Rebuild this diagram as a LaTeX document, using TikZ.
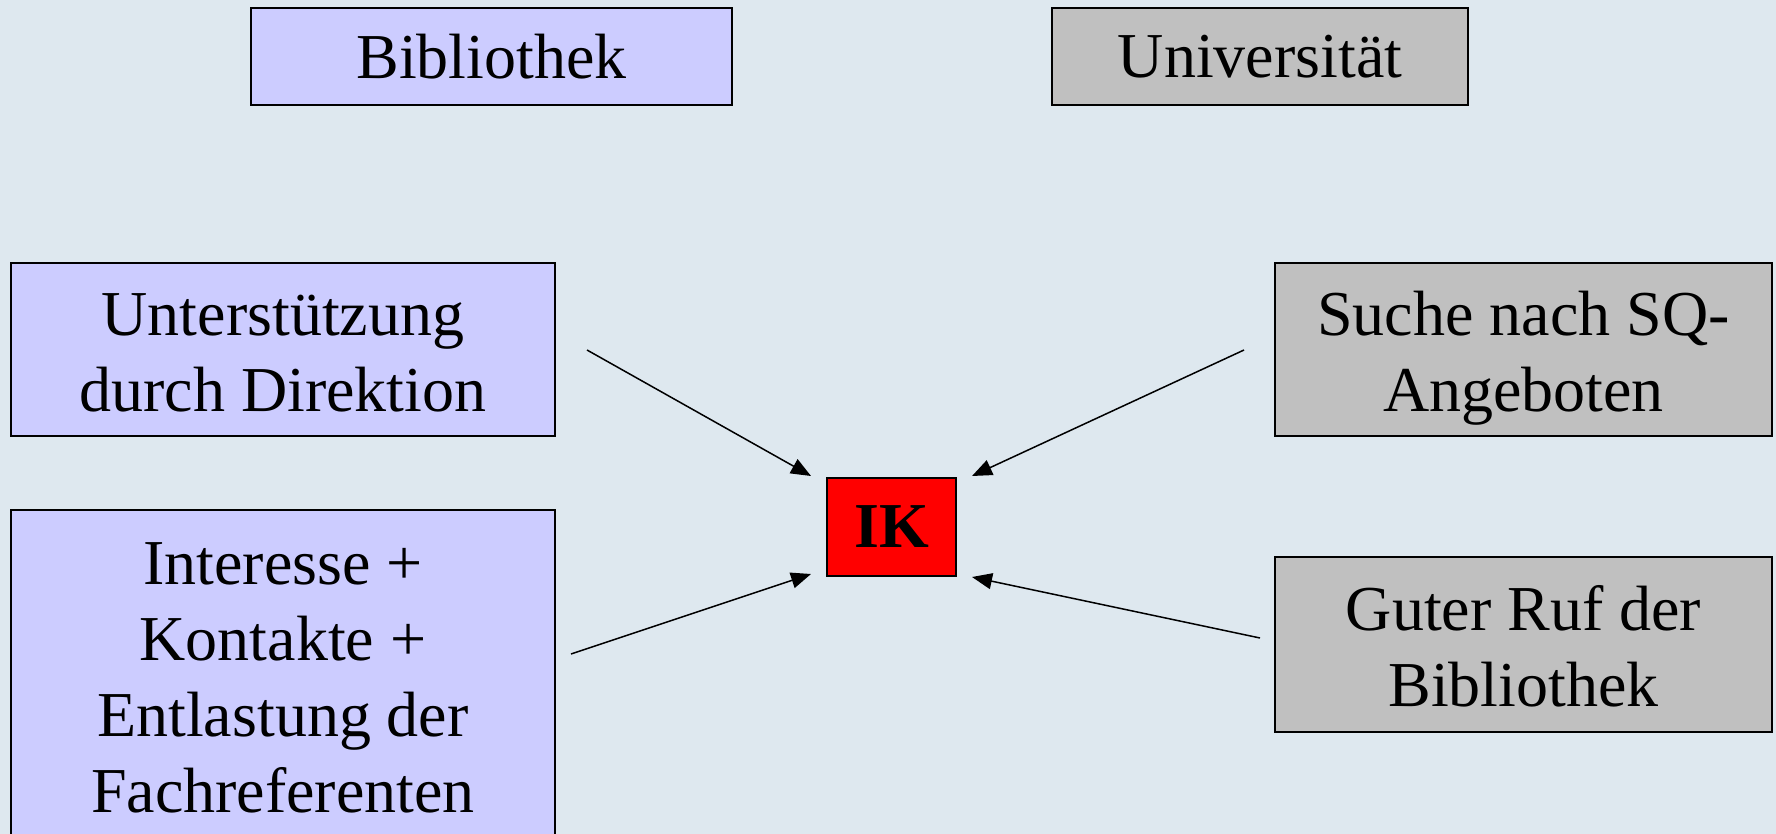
\documentclass[tikz,border=0pt]{standalone}
\usepackage{fontspec}
\setmainfont{Liberation Serif}
\usetikzlibrary{arrows.meta}
\definecolor{bgc}{HTML}{DEE8EF}
\definecolor{lav}{HTML}{CCCCFF}
\definecolor{gry}{HTML}{C0C0C0}
\definecolor{ikred}{HTML}{FF0000}
\newcommand\twolines[1]{\raisebox{-4.5pt}[\height][\depth]{\begin{tabular}{@{}c@{}}#1\end{tabular}}}
\tikzset{
  box/.style={draw=black, line width=1pt, align=center, inner sep=0pt,
    font=\fontsize{32}{38}\selectfont},
  libbox/.style={box, fill=lav},
  unibox/.style={box, fill=gry},
  conn/.style={line width=0.75pt, -{Triangle[length=10pt,width=8pt]}}
}
\begin{document}
\begin{tikzpicture}[x=0.5pt,y=-0.5pt]
\fill[bgc] (0,0) rectangle (1776,834);
\useasboundingbox (0,0) rectangle (1776,834);
\clip (0,0) rectangle (1776,834);
\node[libbox, minimum width=240.5pt, minimum height=48.5pt] (bib) at (491.5,56.5) {Bibliothek};
\node[unibox, minimum width=208pt, minimum height=48.5pt] (uni) at (1260,56.5) {Universität};
\node[libbox, minimum width=272pt, minimum height=86.5pt] (unt) at (283,349.5) {\twolines{Unterstützung\\durch Direktion}};
\node[libbox, minimum width=272pt, minimum height=168pt] (int) at (283,678) {Interesse +\\Kontakte +\\Entlastung der\\Fachreferenten};
\node[unibox, minimum width=248.5pt, minimum height=86.5pt] (such) at (1523.5,349.5) {\twolines{Suche nach SQ-\\Angeboten}};
\node[unibox, minimum width=248.5pt, minimum height=87.5pt] (ruf) at (1523.5,644.5) {\twolines{Guter Ruf der\\Bibliothek}};
\node[box, fill=ikred, minimum width=64.5pt, minimum height=49pt, font=\fontsize{32}{38}\selectfont\bfseries] (ik) at (891.5,527) {IK};
\coordinate (a1s) at (587,350);
\coordinate (a1e) at (811,476);
\coordinate (a2s) at (571,654);
\coordinate (a2e) at (811,574);
\coordinate (a3s) at (1244,350);
\coordinate (a3e) at (972,476);
\coordinate (a4s) at (1260,638);
\coordinate (a4e) at (972,577);
\draw[conn] (a1s) -- (a1e);
\draw[conn] (a2s) -- (a2e);
\draw[conn] (a3s) -- (a3e);
\draw[conn] (a4s) -- (a4e);
\end{tikzpicture}
\end{document}
